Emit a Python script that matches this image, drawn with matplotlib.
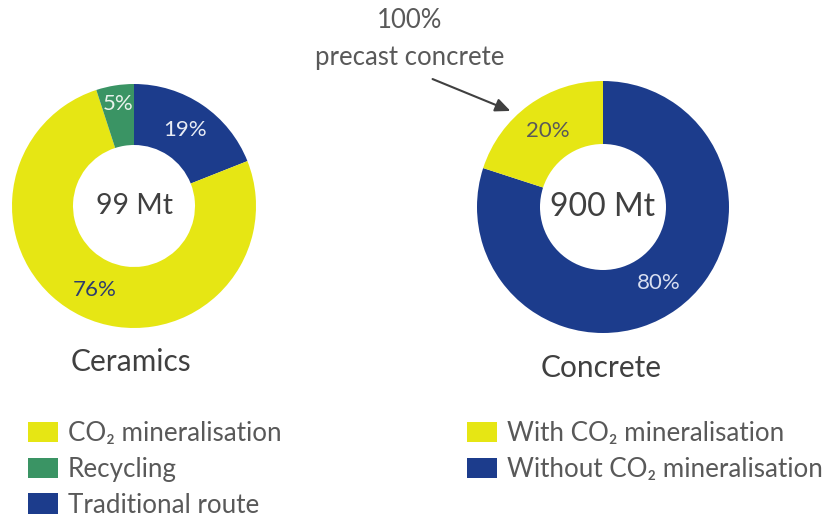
import matplotlib.pyplot as plt
import numpy as np
from matplotlib.patches import Patch

plt.rcParams['font.family'] = ['Lato', 'DejaVu Sans']

# data
ceramics_labels = ["Traditional route", "CO\u2082 mineralisation", "Recycling"]
ceramics_values = [19, 76, 5]
ceramics_colors = ["#1c3c8c", "#e6e614", "#3a9464"]
ceramics_text_colors = ["#e8ecf4", "#2d3d6e", "#e8f2ec"]
ceramics_total = "99 Mt"

concrete_labels = ["Without CO\u2082 mineralisation", "With CO\u2082 mineralisation"]
concrete_values = [80, 20]
concrete_colors = ["#1c3c8c", "#e6e614"]
concrete_text_colors = ["#d8def0", "#595959"]
concrete_total = "900 Mt"

GREY = "#595959"
W, H = 824, 518

fig = plt.figure(figsize=(W / 100, H / 100), dpi=100)


def px_axes(cx, cy, r):
    return fig.add_axes([(cx - r) / W, (H - cy - r) / H, 2 * r / W, 2 * r / H])


def donut(ax, values, colors, text_colors, total, label_dist, total_size):
    wedges, _ = ax.pie(values, colors=colors, startangle=90, counterclock=False,
                       radius=1.0, wedgeprops=dict(width=0.5, edgecolor="none"))
    for w, v, tc, d in zip(wedges, values, text_colors, label_dist):
        ang = np.deg2rad((w.theta1 + w.theta2) / 2)
        ax.text(d * np.cos(ang), d * np.sin(ang), f"{v}%", ha="center", va="center",
                fontsize=16, color=tc)
    ax.text(0, 0.0, total, ha="center", va="center", fontsize=total_size, color="#404040")
    ax.set_xlim(-1, 1)
    ax.set_ylim(-1, 1)
    ax.set_aspect("equal")
    ax.axis("off")


ax1 = px_axes(134, 206, 122)
donut(ax1, ceramics_values, ceramics_colors, ceramics_text_colors, ceramics_total, [0.75, 0.76, 0.85], 20.5)

ax2 = px_axes(603, 207, 126)
donut(ax2, concrete_values, concrete_colors, concrete_text_colors, concrete_total, [0.75, 0.75], 23)

ov = fig.add_axes([0, 0, 1, 1])
ov.set_xlim(0, W)
ov.set_ylim(H, 0)
ov.axis("off")
ov.patch.set_alpha(0)

ov.text(131, 362, "Ceramics", ha="center", va="center", fontsize=21.5, color="#404040")
ov.text(601, 368, "Concrete", ha="center", va="center", fontsize=21.5, color="#404040")

ov.text(410, 21, "100%", ha="center", va="center", fontsize=18.5, color=GREY)
ov.text(410, 57, "precast concrete", ha="center", va="center", fontsize=18.5, color=GREY)
ov.annotate("", xy=(513, 112), xytext=(430, 78),
            arrowprops=dict(arrowstyle="-|>,head_length=0.9,head_width=0.4", color="#404040", lw=1.5))

# legends
leg_kw = dict(loc="upper left", frameon=False, fontsize=18.7, handlelength=1.15, handleheight=0.85,
              labelspacing=0.42, handletextpad=0.39, borderaxespad=0, borderpad=0)

leg1_order = [1, 2, 0]
h1 = [Patch(facecolor=ceramics_colors[i], edgecolor="none") for i in leg1_order]
l1 = [ceramics_labels[i] for i in leg1_order]
leg1 = fig.legend(h1, l1, bbox_to_anchor=(28 / W, 1 - 421 / H), **leg_kw)
for t in leg1.get_texts():
    t.set_color(GREY)

leg2_order = [1, 0]
h2 = [Patch(facecolor=concrete_colors[i], edgecolor="none") for i in leg2_order]
l2 = [concrete_labels[i] for i in leg2_order]
leg2 = fig.legend(h2, l2, bbox_to_anchor=(467 / W, 1 - 421 / H), **leg_kw)
for t in leg2.get_texts():
    t.set_color(GREY)

fig.savefig("out.png", dpi=100)
